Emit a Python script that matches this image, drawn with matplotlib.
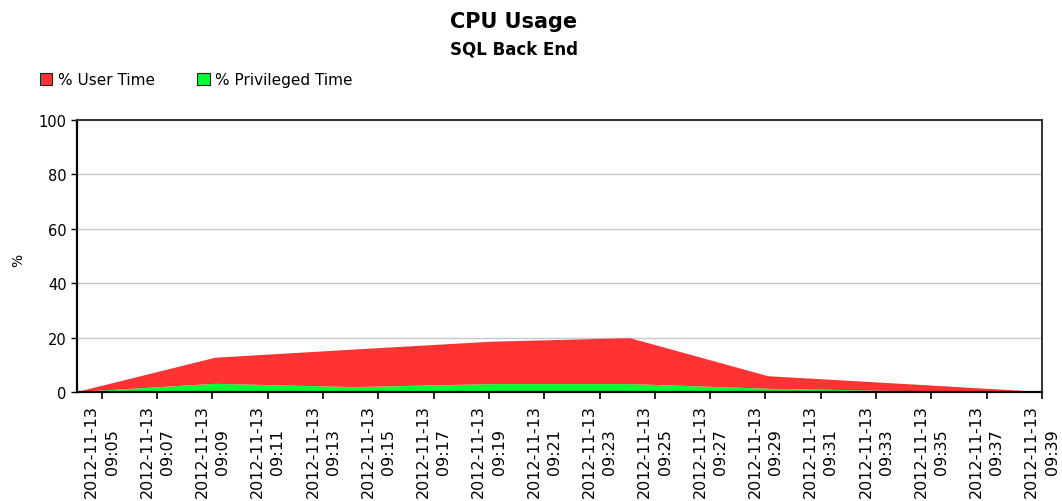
import numpy as np
import pandas as pd
import matplotlib
matplotlib.use('Agg')
import matplotlib.pyplot as plt
import matplotlib.dates as mdates
from matplotlib.patches import Patch

# Данные (шаг выборки ~5 минут)
times = pd.to_datetime([
    '2012-11-13 09:04:06', '2012-11-13 09:09:06', '2012-11-13 09:14:06',
    '2012-11-13 09:19:06', '2012-11-13 09:24:06', '2012-11-13 09:29:06',
    '2012-11-13 09:34:06', '2012-11-13 09:39:00',
])
privileged = [0.0, 3.0, 1.8, 2.9, 2.9, 1.2, 0.3, 0.0]
user = [0.0, 9.6, 13.8, 15.6, 16.9, 4.6, 2.6, 0.0]
series_names = ['% User Time', '% Privileged Time']
tick_times = pd.date_range('2012-11-13 09:05', '2012-11-13 09:39', freq='2min')
y_ticks = [0, 20, 40, 60, 80, 100]

red = '#ff3333'
green = '#00ff33'

plt.rcParams['font.family'] = ['DejaVu Sans']

fig = plt.figure(figsize=(10.62, 5.02), dpi=100)
ax = fig.add_axes([77 / 1062, 109 / 502, 965 / 1062, 272 / 502])

# Стековая диаграмма: привилегированное время снизу, пользовательское сверху
ax.stackplot(times, privileged, user, colors=[green, red], linewidth=0)

ax.set_xlim(times[0], times[-1])
ax.set_ylim(0, 100)
ax.set_yticks(y_ticks)
ax.set_xticks(tick_times)
ax.xaxis.set_major_formatter(mdates.DateFormatter('%Y-%m-%d\n%H:%M'))

ax.grid(axis='y', color='#c8c8c8', linewidth=1.0)
ax.set_axisbelow(True)

for side in ['left', 'bottom']:
    ax.spines[side].set_linewidth(1.6)
    ax.spines[side].set_color('black')
for side in ['top', 'right']:
    ax.spines[side].set_linewidth(1.4)
    ax.spines[side].set_color('#333333')

ax.tick_params(axis='x', length=5, width=1.2, pad=4, labelsize=11.5, labelrotation=90)
ax.tick_params(axis='y', length=4.5, width=1.0, pad=3, labelsize=10.5)
plt.setp(ax.get_xticklabels(), linespacing=1.45)

# Заголовки
fig.text(514 / 1062, 1 - 28 / 502, 'CPU Usage', ha='center', va='baseline',
         fontsize=15, fontweight='bold')
fig.text(514 / 1062, 1 - 54.5 / 502, 'SQL Back End', ha='center', va='baseline',
         fontsize=12, fontweight='bold')
fig.text(18 / 1062, 1 - 260 / 502, '%', rotation=90, ha='center', va='center', fontsize=10)

# Легенда
handles = [Patch(facecolor=red, edgecolor='#222222', linewidth=0.8),
           Patch(facecolor=green, edgecolor='#222222', linewidth=0.8)]
fig.legend(handles, series_names, loc='upper left', bbox_to_anchor=(40 / 1062, 1 - 73 / 502),
           ncol=2, frameon=False, fontsize=11, handlelength=0.8, handleheight=0.8,
           handletextpad=0.35, columnspacing=2.8, borderpad=0, borderaxespad=0)

fig.savefig('out.png', dpi=100)
